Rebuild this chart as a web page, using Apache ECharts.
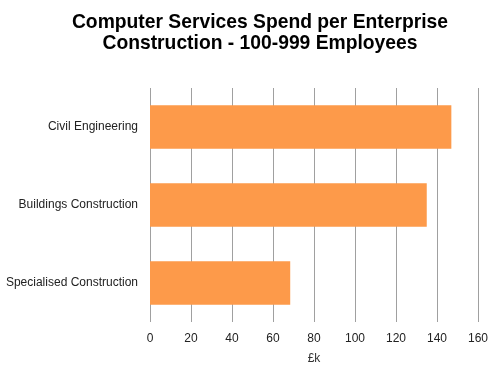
<!DOCTYPE html>
<html>
<head>
<meta charset="utf-8">
<script src="https://cdn.jsdelivr.net/npm/echarts@6/dist/echarts.min.js"></script>
<style>
  html, body { margin: 0; padding: 0; background: #fff; }
  #chart { width: 500px; height: 376px; }
</style>
</head>
<body>
<div id="chart"></div>
<script>
var categories = ['Civil Engineering', 'Buildings Construction', 'Specialised Construction'];
var spend = [147, 135, 68.4];
var xTicks = [0, 20, 40, 60, 80, 100, 120, 140, 160];

var chart = echarts.init(document.getElementById('chart'));
chart.setOption({
  animation: false,
  title: {
    text: 'Computer Services Spend per Enterprise\nConstruction - 100-999 Employees',
    left: 255,
    textAlign: 'center',
    top: 7,
    textStyle: {
      fontFamily: 'Liberation Sans, Arial',
      fontSize: 19.3,
      fontWeight: 'bold',
      color: '#000',
      lineHeight: 21
    }
  },
  grid: {
    left: 150,
    right: 22,
    top: 88,
    bottom: 54,
    containLabel: false
  },
  xAxis: {
    type: 'value',
    min: xTicks[0],
    max: xTicks[xTicks.length - 1],
    interval: 20,
    name: '£k',
    nameLocation: 'middle',
    nameGap: 31,
    nameTextStyle: { fontFamily: 'Liberation Sans, Arial', fontSize: 12, color: '#333' },
    axisLine: { show: false },
    axisTick: { show: false },
    axisLabel: { fontFamily: 'Liberation Sans, Arial', fontSize: 12, color: '#222', margin: 11 },
    splitLine: { show: true, lineStyle: { color: '#a0a0a0', width: 1 } }
  },
  yAxis: {
    type: 'category',
    data: categories,
    inverse: true,
    axisLine: { show: false },
    axisTick: { show: false },
    axisLabel: { fontFamily: 'Liberation Sans, Arial', fontSize: 12, color: '#222', margin: 12 }
  },
  series: [{
    type: 'bar',
    data: spend,
    barCategoryGap: '44%',
    itemStyle: { color: '#fd9a4a' }
  }]
});
</script>
</body>
</html>
